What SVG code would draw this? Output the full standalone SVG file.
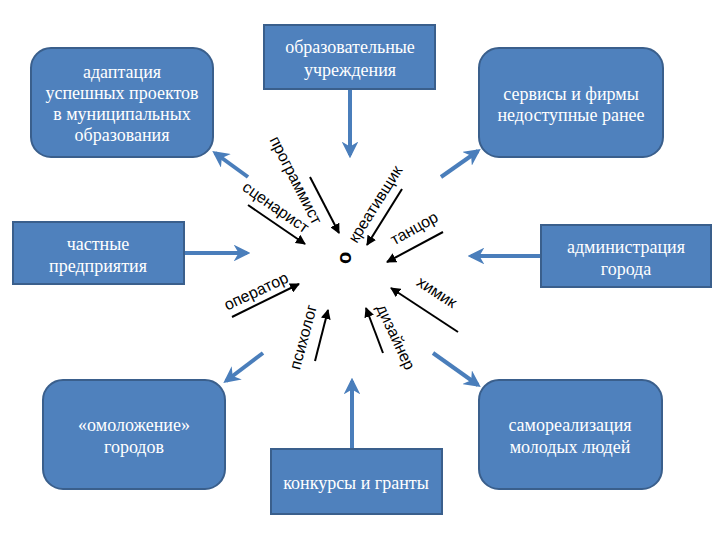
<svg xmlns="http://www.w3.org/2000/svg" width="720" height="540" viewBox="0 0 720 540">
<style>
.box{fill:#4F81BD;stroke:#3A5F8C;stroke-width:2}
.bt{font-family:"Liberation Serif","DejaVu Serif",serif;font-size:18px;fill:#fff;text-anchor:middle}
.lbl{font-family:"Liberation Sans",Arial,sans-serif;font-size:16px;fill:#000;text-anchor:middle}
.blue{stroke:#4A7EBB;stroke-width:4;fill:none;marker-end:url(#ba)}
.blk{stroke:#000;stroke-width:2;fill:none;marker-end:url(#ka)}
</style>
<defs>
<marker id="ba" viewBox="0 0 10 10" refX="8" refY="5" markerWidth="4.2" markerHeight="4.2" orient="auto" markerUnits="strokeWidth">
<path d="M0,0 L10,5 L0,10 L3,5 Z" fill="#4A7EBB"/>
</marker>
<marker id="ka" viewBox="0 0 10 10" refX="9" refY="5" markerWidth="5" markerHeight="5" orient="auto" markerUnits="strokeWidth">
<path d="M0,0 L10,5 L0,10 Z" fill="#000"/>
</marker>
</defs>
<rect width="720" height="540" fill="#fff"/>
<g id="connectors">
<line class="blue" x1="350" y1="89" x2="350" y2="155"/>
<line class="blue" x1="248" y1="177" x2="215" y2="153"/>
<line class="blue" x1="441" y1="177" x2="478" y2="151"/>
<line class="blue" x1="184" y1="253" x2="247" y2="253"/>
<line class="blue" x1="541" y1="256" x2="471" y2="256"/>
<line class="blue" x1="263" y1="353" x2="226" y2="381"/>
<line class="blue" x1="433" y1="353" x2="478" y2="385"/>
<line class="blue" x1="352" y1="449" x2="352" y2="381"/>
<line class="blk" x1="310" y1="177" x2="339" y2="233"/>
<line class="blk" x1="248" y1="205" x2="305" y2="244"/>
<line class="blk" x1="402" y1="189" x2="367" y2="245"/>
<line class="blk" x1="443" y1="232" x2="387" y2="262"/>
<line class="blk" x1="232" y1="317" x2="299" y2="284"/>
<line class="blk" x1="315" y1="361" x2="328" y2="310"/>
<line class="blk" x1="383" y1="353" x2="366" y2="308"/>
<line class="blk" x1="458" y1="332" x2="391" y2="288"/>
</g>
<g id="n-adapt">
<rect class="box" x="31" y="48" width="182" height="109" rx="20"/>
<text class="bt" x="122" y="78">адаптация</text>
<text class="bt" x="122" y="99">успешных проектов</text>
<text class="bt" x="122" y="120">в муниципальных</text>
<text class="bt" x="122" y="141">образования</text>
</g>
<g id="n-edu">
<rect class="box" x="264" y="25" width="171" height="64"/>
<text class="bt" x="350" y="53">образовательные</text>
<text class="bt" x="350" y="76">учреждения</text>
</g>
<g id="n-serv">
<rect class="box" x="479" y="48" width="184" height="109" rx="20"/>
<text class="bt" x="571" y="100">сервисы и фирмы</text>
<text class="bt" x="571" y="121">недоступные ранее</text>
</g>
<g id="n-private">
<rect class="box" x="13" y="222" width="171" height="62"/>
<text class="bt" x="98" y="250">частные</text>
<text class="bt" x="98" y="272">предприятия</text>
</g>
<g id="n-admin">
<rect class="box" x="541" y="225" width="170" height="62"/>
<text class="bt" x="626" y="253">администрация</text>
<text class="bt" x="626" y="275">города</text>
</g>
<g id="n-young">
<rect class="box" x="43" y="380" width="182" height="109" rx="20"/>
<text class="bt" x="134" y="431">«омоложение»</text>
<text class="bt" x="134" y="453">городов</text>
</g>
<g id="n-contest">
<rect class="box" x="271" y="449" width="171" height="65"/>
<text class="bt" x="356" y="489">конкурсы и гранты</text>
</g>
<g id="n-self">
<rect class="box" x="479" y="380" width="183" height="109" rx="20"/>
<text class="bt" x="570" y="431">самореализация</text>
<text class="bt" x="570" y="453">молодых людей</text>
</g>
<g id="labels">
<text class="lbl" transform="translate(296,180) rotate(63)" dy="0.35em">программист</text>
<text class="lbl" transform="translate(276,207) rotate(35)" dy="0.35em">сценарист</text>
<text class="lbl" transform="translate(375,204) rotate(-58)" dy="0.35em">креативщик</text>
<text class="lbl" transform="translate(414,228) rotate(-29)" dy="0.35em">танцор</text>
<text class="lbl" transform="translate(344,258) rotate(-90)" dy="0.35em" style="font-size:20px;font-weight:bold">о</text>
<text class="lbl" transform="translate(256,291) rotate(-25)" dy="0.35em">оператор</text>
<text class="lbl" transform="translate(303,337) rotate(-75)" dy="0.35em">психолог</text>
<text class="lbl" transform="translate(396,337) rotate(65)" dy="0.35em">дизайнер</text>
<text class="lbl" transform="translate(437,292) rotate(33)" dy="0.35em">химик</text>
</g>
</svg>
